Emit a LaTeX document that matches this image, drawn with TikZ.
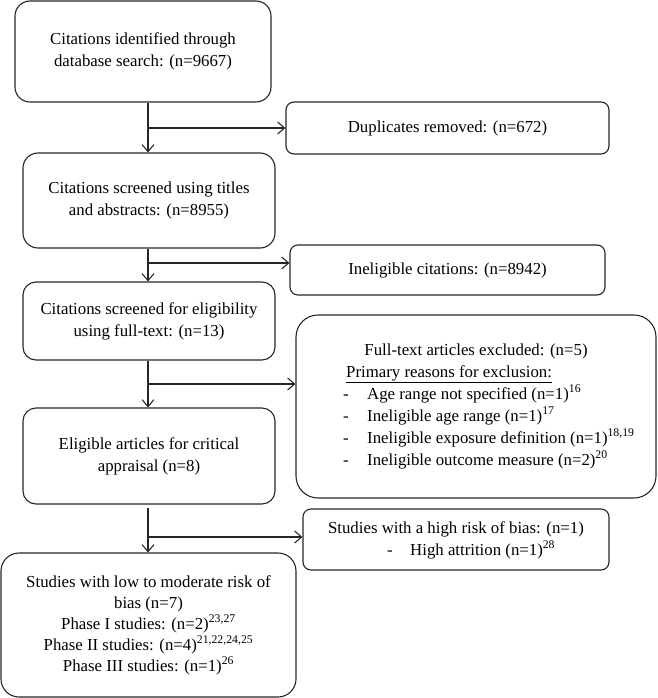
\documentclass[tikz,border=0pt]{standalone}
\usepackage{fontspec}
\setmainfont{Liberation Serif}
\usetikzlibrary{arrows.meta}
\begin{document}
\begin{tikzpicture}[x=1pt,y=-1pt,
  font=\fontsize{16.8}{22}\selectfont,
  box/.style={draw=black!85, line width=1.1pt, inner sep=0pt, align=center},
  arr/.style={draw=black!85, -{Straight Barb[length=7pt,width=12pt]}, line width=1.1pt},
  lin/.style={draw=black!85, line width=1.1pt},
  txt/.style={inner sep=0pt}]
\useasboundingbox (0,0) rectangle (657,698);

% main column
\node[box, rounded corners=15pt, minimum width=256pt, minimum height=101pt] (b1) at (143,51.5)
  {Citations identified through\\database search: (n=9667)};
\node[box, rounded corners=15pt, minimum width=252pt, minimum height=95pt] (b2) at (149,200.5)
  {Citations screened using titles\\and abstracts: (n=8955)};
\node[box, rounded corners=13pt, minimum width=252pt, minimum height=78pt] (b3) at (149,321)
  {Citations screened for eligibility\\using full-text: (n=13)};
\node[box, rounded corners=13pt, minimum width=252pt, minimum height=96pt] (b4) at (149,456)
  {Eligible articles for critical\\appraisal (n=8)};
\node[box, rounded corners=18pt, minimum width=295pt, minimum height=144pt,
  font=\fontsize{16.8}{21}\selectfont] (b5) at (148.5,625)
  {Studies with low to moderate risk of\\bias (n=7)\\
   Phase I studies: (n=2)\textsuperscript{23,27}\\
   Phase II studies: (n=4)\textsuperscript{21,22,24,25}\\
   Phase III studies: (n=1)\textsuperscript{26}};

% side boxes
\node[box, rounded corners=8pt, minimum width=323pt, minimum height=52pt] (dup) at (447.5,128)
  {Duplicates removed: (n=672)};
\node[box, rounded corners=8pt, minimum width=315pt, minimum height=50pt] (inel) at (447.5,270)
  {Ineligible citations: (n=8942)};
\node[box, rounded corners=22pt, minimum width=360pt, minimum height=183pt] (full) at (476,406.5) {};
\node[box, rounded corners=8pt, minimum width=306pt, minimum height=61pt] (high) at (456,539.5) {};

% texts of the full-text box
\node[txt, anchor=base] (f1) at (476,355) {Full-text articles excluded: (n=5)};
\node[txt, anchor=base west] (f2) at (346,377) {\underline{Primary reasons for exclusion:}};
\node[txt, anchor=base west] (d1) at (343,399) {-};
\node[txt, anchor=base west] (f3) at (367,399) {Age range not specified (n=1)\textsuperscript{16}};
\node[txt, anchor=base west] (d2) at (343,421) {-};
\node[txt, anchor=base west] (f4) at (367,421) {Ineligible age range (n=1)\textsuperscript{17}};
\node[txt, anchor=base west] (d3) at (343,443) {-};
\node[txt, anchor=base west] (f5) at (367,443) {Ineligible exposure definition (n=1)\textsuperscript{18,19}};
\node[txt, anchor=base west] (d4) at (343,465) {-};
\node[txt, anchor=base west] (f6) at (367,465) {Ineligible outcome measure (n=2)\textsuperscript{20}};

% texts of the high-risk box
\node[txt, anchor=base] (h1) at (456,533) {Studies with a high risk of bias: (n=1)};
\node[txt, anchor=base west] (hd) at (387,555) {-};
\node[txt, anchor=base west] (h2) at (410,555) {High attrition (n=1)\textsuperscript{28}};

% junctions
\coordinate (j1) at (148,128);
\coordinate (j2) at (148,263);
\coordinate (j3) at (148,384);
\coordinate (j4) at (148,537);
\coordinate (s4) at (148,508);

% connectors
\draw[arr] (b1.south -| j1) -- (b2.north -| j1);
\draw[arr] (j1) -- (dup.west |- j1);
\draw[arr] (b2.south -| j2) -- (b3.north -| j2);
\draw[arr] (j2) -- (inel.west |- j2);
\draw[arr] (b3.south -| j3) -- (b4.north -| j3);
\draw[arr] (j3) -- (full.west |- j3);
\draw[arr] (s4) -- (b5.north -| s4);
\draw[arr] (j4) -- (high.west |- j4);
\end{tikzpicture}
\end{document}
